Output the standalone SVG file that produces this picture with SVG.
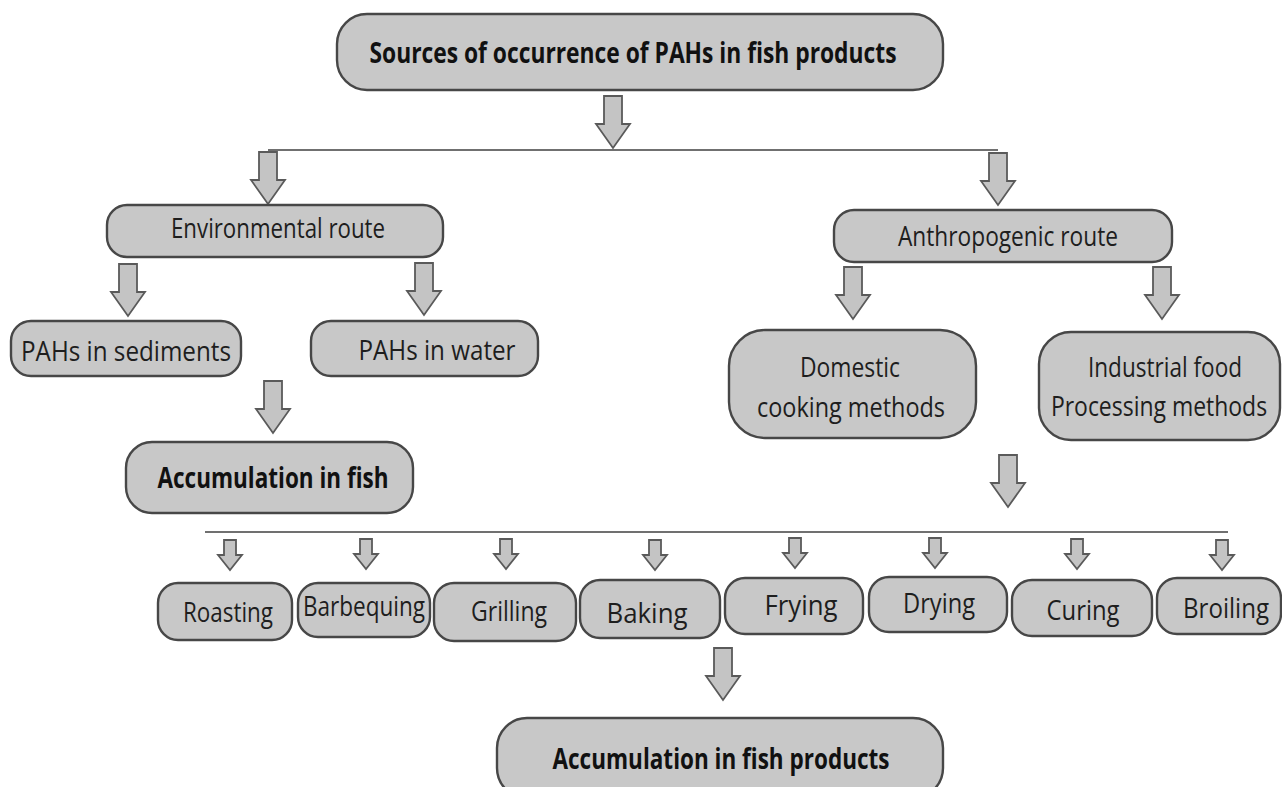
<svg xmlns="http://www.w3.org/2000/svg" xmlns:xlink="http://www.w3.org/1999/xlink" width="1282" height="787" viewBox="0 0 1282 787">
<style>
.box{fill:#c8c8c8;stroke:#474747;stroke-width:2.4}
.t{font-family:"Open Sans","Liberation Sans",sans-serif;font-size:28px;fill:#1e1e1e;text-anchor:middle}
.b{font-weight:bold;fill:#111}
.arr{fill:#c4c4c4;stroke:#5a5a5a;stroke-width:1.8;stroke-linejoin:miter}
.ln{stroke:#707070;stroke-width:2;fill:none}
</style>
<defs>
<path id="big" d="M-9,0 H9 V28 H17 L0,52 L-17,28 H-9 Z"/>
<path id="sm" d="M-6,0 H6 V15 H12 L0,30 L-12,15 H-6 Z"/>
</defs>
<rect width="1282" height="787" fill="#ffffff"/>
<g id="connectors">
<line class="ln" x1="268" y1="150" x2="998" y2="150"/>
<line class="ln" x1="205" y1="532" x2="1228" y2="532"/>
<use href="#big" class="arr" x="613" y="96"/>
<use href="#big" class="arr" x="268" y="152"/>
<use href="#big" class="arr" x="998" y="153"/>
<use href="#big" class="arr" x="128" y="264"/>
<use href="#big" class="arr" x="424" y="263"/>
<use href="#big" class="arr" x="273" y="381"/>
<use href="#big" class="arr" x="853" y="267"/>
<use href="#big" class="arr" x="1162" y="267"/>
<use href="#big" class="arr" x="1008" y="455"/>
<use href="#big" class="arr" x="723" y="648"/>
<use href="#sm" class="arr" x="230" y="540"/>
<use href="#sm" class="arr" x="366" y="539"/>
<use href="#sm" class="arr" x="506" y="539"/>
<use href="#sm" class="arr" x="655" y="540"/>
<use href="#sm" class="arr" x="795" y="538"/>
<use href="#sm" class="arr" x="935" y="538"/>
<use href="#sm" class="arr" x="1077" y="539"/>
<use href="#sm" class="arr" x="1222" y="540"/>
</g>
<g id="n-title">
<rect class="box" x="337" y="14" width="606" height="76" rx="30"/>
<text class="t b" x="633" y="63" font-size="31" textLength="527" lengthAdjust="spacingAndGlyphs">Sources of occurrence of PAHs in fish products</text>
</g>
<g id="n-env">
<rect class="box" x="107" y="205" width="336" height="52" rx="20"/>
<text class="t" x="278" y="238" textLength="214" lengthAdjust="spacingAndGlyphs">Environmental route</text>
</g>
<g id="n-sed">
<rect class="box" x="11" y="321" width="230" height="55" rx="20"/>
<text class="t" x="126" y="361" textLength="210" lengthAdjust="spacingAndGlyphs">PAHs in sediments</text>
</g>
<g id="n-water">
<rect class="box" x="311" y="321" width="227" height="55" rx="20"/>
<text class="t" x="437" y="360" textLength="157" lengthAdjust="spacingAndGlyphs">PAHs in water</text>
</g>
<g id="n-accfish">
<rect class="box" x="126" y="442" width="287" height="71" rx="26"/>
<text class="t b" x="273" y="488" font-size="29" textLength="231" lengthAdjust="spacingAndGlyphs">Accumulation in fish</text>
</g>
<g id="n-anth">
<rect class="box" x="834" y="210" width="338" height="52" rx="20"/>
<text class="t" x="1008" y="246" textLength="220" lengthAdjust="spacingAndGlyphs">Anthropogenic route</text>
</g>
<g id="n-dom">
<rect class="box" x="729" y="330" width="247" height="108" rx="36"/>
<text class="t" x="850" y="377" textLength="100" lengthAdjust="spacingAndGlyphs">Domestic</text>
<text class="t" x="851" y="417" textLength="188" lengthAdjust="spacingAndGlyphs">cooking methods</text>
</g>
<g id="n-ind">
<rect class="box" x="1039" y="332" width="241" height="108" rx="32"/>
<text class="t" x="1165" y="377" textLength="154" lengthAdjust="spacingAndGlyphs">Industrial food</text>
<text class="t" transform="translate(1159,416) scale(0.82,1)" x="0" y="0">Processing methods</text>
</g>
<g id="n-roasting">
<rect class="box" x="158" y="583" width="134" height="57" rx="20"/>
<text class="t" x="228" y="622" textLength="90" lengthAdjust="spacingAndGlyphs">Roasting</text>
</g>
<g id="n-barbequing">
<rect class="box" x="298" y="583" width="132" height="54" rx="20"/>
<text class="t" x="364" y="616" textLength="122" lengthAdjust="spacingAndGlyphs">Barbequing</text>
</g>
<g id="n-grilling">
<rect class="box" x="434" y="583" width="142" height="58" rx="20"/>
<text class="t" x="509" y="621" textLength="76" lengthAdjust="spacingAndGlyphs">Grilling</text>
</g>
<g id="n-baking">
<rect class="box" x="580" y="580" width="140" height="58" rx="20"/>
<text class="t" x="647" y="623" textLength="81" lengthAdjust="spacingAndGlyphs">Baking</text>
</g>
<g id="n-frying">
<rect class="box" x="725" y="578" width="138" height="56" rx="20"/>
<text class="t" x="801" y="615" textLength="73" lengthAdjust="spacingAndGlyphs">Frying</text>
</g>
<g id="n-drying">
<rect class="box" x="869" y="577" width="138" height="55" rx="20"/>
<text class="t" x="939" y="613" textLength="72" lengthAdjust="spacingAndGlyphs">Drying</text>
</g>
<g id="n-curing">
<rect class="box" x="1012" y="580" width="140" height="56" rx="20"/>
<text class="t" x="1083" y="620" textLength="73" lengthAdjust="spacingAndGlyphs">Curing</text>
</g>
<g id="n-broiling">
<rect class="box" x="1157" y="578" width="124" height="56" rx="20"/>
<text class="t" x="1226" y="618" textLength="86" lengthAdjust="spacingAndGlyphs">Broiling</text>
</g>
<g id="n-accproducts">
<rect class="box" x="497" y="718" width="446" height="80" rx="30"/>
<text class="t b" x="721" y="769" font-size="29" textLength="337" lengthAdjust="spacingAndGlyphs">Accumulation in fish products</text>
</g>
</svg>
